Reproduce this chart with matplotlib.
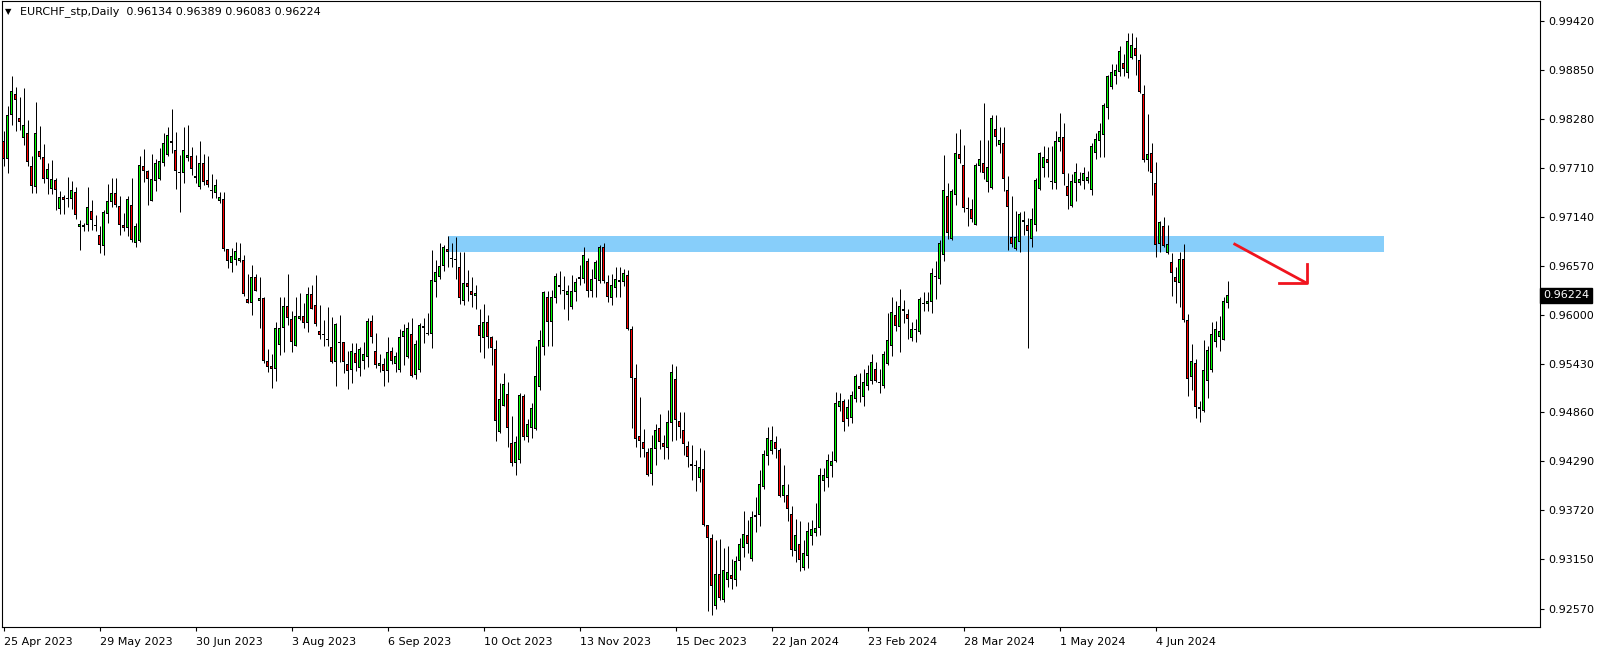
import matplotlib.pyplot as plt
import numpy as np
import pandas as pd
from matplotlib.patches import Rectangle
from matplotlib.transforms import blended_transform_factory

title = "EURCHF_stp,Daily  0.96134 0.96389 0.96083 0.96224"
last_price = 0.96224

opens = [
    0.9803, 0.9782, 0.9833, 0.9857, 0.9829, 0.9806, 0.9812, 0.9773, 0.9749, 0.9791,
    0.9784, 0.9758, 0.9746, 0.9757, 0.9723, 0.9737, 0.9735, 0.9735, 0.9743, 0.9702,
    0.9702, 0.9705, 0.9721, 0.9705, 0.9693, 0.9680, 0.9717, 0.9731, 0.9742, 0.9727,
    0.9705, 0.9701, 0.9728, 0.9684, 0.9686, 0.9773, 0.9767, 0.9733, 0.9756, 0.9758,
    0.9777, 0.9786, 0.9803, 0.9792, 0.9766, 0.9765, 0.9783, 0.9785, 0.9762, 0.9749,
    0.9777, 0.9757, 0.9745, 0.9742, 0.9732, 0.9735, 0.9676, 0.9660, 0.9664, 0.9663,
    0.9664, 0.9618, 0.9614, 0.9644, 0.9616, 0.9619, 0.9546, 0.9540, 0.9537, 0.9565,
    0.9585, 0.9610, 0.9595, 0.9564, 0.9595, 0.9599, 0.9590, 0.9624, 0.9611, 0.9581,
    0.9577, 0.9572, 0.9562, 0.9545, 0.9568, 0.9568, 0.9542, 0.9535, 0.9555, 0.9538,
    0.9546, 0.9551, 0.9593, 0.9558, 0.9540, 0.9542, 0.9534, 0.9558, 0.9542, 0.9535,
    0.9574, 0.9551, 0.9578, 0.9530, 0.9535, 0.9587, 0.9579, 0.9577, 0.9638, 0.9644,
    0.9657, 0.9677, 0.9666, 0.9665, 0.9655, 0.9616, 0.9637, 0.9628, 0.9622, 0.9588,
    0.9573, 0.9591, 0.9574, 0.9560, 0.9463, 0.9493, 0.9507, 0.9450, 0.9427, 0.9430,
    0.9505, 0.9457, 0.9468, 0.9467, 0.9516, 0.9562, 0.9620, 0.9592, 0.9619, 0.9632,
    0.9628, 0.9623, 0.9609, 0.9626, 0.9641, 0.9642, 0.9662, 0.9627, 0.9641, 0.9639,
    0.9679, 0.9638, 0.9619, 0.9631, 0.9638, 0.9638, 0.9646, 0.9583, 0.9526, 0.9459,
    0.9451, 0.9440, 0.9414, 0.9443, 0.9468, 0.9450, 0.9445, 0.9474, 0.9525, 0.9476,
    0.9466, 0.9447, 0.9426, 0.9423, 0.9409, 0.9420, 0.9355, 0.9340, 0.9260, 0.9297,
    0.9267, 0.9290, 0.9296, 0.9290, 0.9313, 0.9328, 0.9343, 0.9315, 0.9364, 0.9366,
    0.9399, 0.9435, 0.9441, 0.9452, 0.9442, 0.9388, 0.9390, 0.9367, 0.9324, 0.9333,
    0.9305, 0.9318, 0.9342, 0.9345, 0.9351, 0.9406, 0.9410, 0.9424, 0.9429, 0.9492,
    0.9499, 0.9478, 0.9480, 0.9502, 0.9517, 0.9504, 0.9517, 0.9523, 0.9537, 0.9521,
    0.9517, 0.9543, 0.9563, 0.9600, 0.9586, 0.9604, 0.9601, 0.9573, 0.9583, 0.9580,
    0.9612, 0.9612, 0.9615, 0.9645, 0.9642, 0.9670, 0.9738, 0.9688, 0.9740, 0.9787,
    0.9774, 0.9724, 0.9723, 0.9705, 0.9773, 0.9777, 0.9755, 0.9748, 0.9817, 0.9798,
    0.9800, 0.9745, 0.9690, 0.9677, 0.9685, 0.9710, 0.9705, 0.9688, 0.9705, 0.9747,
    0.9771, 0.9782, 0.9756, 0.9754, 0.9801, 0.9807, 0.9750, 0.9727, 0.9754, 0.9754,
    0.9756, 0.9756, 0.9745, 0.9788, 0.9803, 0.9810, 0.9841, 0.9865, 0.9878, 0.9883,
    0.9894, 0.9882, 0.9899, 0.9911, 0.9897, 0.9857, 0.9780, 0.9789, 0.9754, 0.9682,
    0.9703, 0.9672, 0.9661, 0.9644, 0.9637, 0.9665, 0.9594, 0.9527, 0.9544, 0.9492,
    0.9488, 0.9523, 0.9536, 0.9568, 0.9574, 0.9571, 0.96134,
]
highs = [
    0.9814, 0.9843, 0.9878, 0.9865, 0.9854, 0.9864, 0.9827, 0.9785, 0.9848, 0.9820,
    0.9799, 0.9777, 0.9780, 0.9759, 0.9744, 0.9740, 0.9760, 0.9756, 0.9749, 0.9710,
    0.9707, 0.9749, 0.9734, 0.9716, 0.9703, 0.9722, 0.9752, 0.9759, 0.9759, 0.9738,
    0.9718, 0.9738, 0.9759, 0.9707, 0.9785, 0.9793, 0.9769, 0.9787, 0.9782, 0.9794,
    0.9812, 0.9819, 0.9840, 0.9813, 0.9786, 0.9819, 0.9821, 0.9796, 0.9786, 0.9802,
    0.9787, 0.9785, 0.9764, 0.9758, 0.9743, 0.9743, 0.9677, 0.9678, 0.9685, 0.9683,
    0.9670, 0.9647, 0.9658, 0.9647, 0.9644, 0.9620, 0.9560, 0.9554, 0.9592, 0.9621,
    0.9621, 0.9647, 0.9604, 0.9621, 0.9625, 0.9614, 0.9632, 0.9635, 0.9646, 0.9611,
    0.9594, 0.9609, 0.9597, 0.9590, 0.9600, 0.9568, 0.9558, 0.9567, 0.9567, 0.9562,
    0.9568, 0.9596, 0.9600, 0.9579, 0.9554, 0.9549, 0.9574, 0.9562, 0.9557, 0.9583,
    0.9589, 0.9591, 0.9596, 0.9570, 0.9590, 0.9596, 0.9602, 0.9675, 0.9664, 0.9683,
    0.9681, 0.9692, 0.9683, 0.9690, 0.9673, 0.9673, 0.9652, 0.9644, 0.9635, 0.9607,
    0.9612, 0.9600, 0.9575, 0.9571, 0.9520, 0.9532, 0.9521, 0.9482, 0.9458, 0.9509,
    0.9508, 0.9478, 0.9497, 0.9563, 0.9582, 0.9628, 0.9627, 0.9629, 0.9648, 0.9651,
    0.9645, 0.9635, 0.9646, 0.9643, 0.9658, 0.9679, 0.9666, 0.9653, 0.9664, 0.9681,
    0.9683, 0.9646, 0.9647, 0.9655, 0.9656, 0.9653, 0.9652, 0.9587, 0.9542, 0.9504,
    0.9467, 0.9445, 0.9460, 0.9473, 0.9484, 0.9460, 0.9489, 0.9542, 0.9540, 0.9486,
    0.9486, 0.9453, 0.9448, 0.9430, 0.9445, 0.9442, 0.9355, 0.9344, 0.9337, 0.9338,
    0.9328, 0.9330, 0.9315, 0.9318, 0.9340, 0.9371, 0.9361, 0.9371, 0.9387, 0.9419,
    0.9442, 0.9469, 0.9470, 0.9458, 0.9445, 0.9425, 0.9403, 0.9377, 0.9362, 0.9359,
    0.9337, 0.9358, 0.9360, 0.9380, 0.9421, 0.9421, 0.9437, 0.9441, 0.9510, 0.9509,
    0.9502, 0.9502, 0.9511, 0.9531, 0.9532, 0.9537, 0.9541, 0.9554, 0.9545, 0.9537,
    0.9558, 0.9602, 0.9620, 0.9616, 0.9630, 0.9617, 0.9607, 0.9591, 0.9595, 0.9620,
    0.9626, 0.9626, 0.9654, 0.9663, 0.9687, 0.9786, 0.9754, 0.9746, 0.9812, 0.9817,
    0.9798, 0.9737, 0.9735, 0.9777, 0.9804, 0.9847, 0.9804, 0.9833, 0.9833, 0.9819,
    0.9819, 0.9762, 0.9738, 0.9721, 0.9720, 0.9721, 0.9713, 0.9724, 0.9759, 0.9790,
    0.9797, 0.9795, 0.9797, 0.9814, 0.9835, 0.9824, 0.9765, 0.9764, 0.9777, 0.9766,
    0.9772, 0.9767, 0.9800, 0.9812, 0.9823, 0.9847, 0.9880, 0.9892, 0.9892, 0.9913,
    0.9904, 0.9928, 0.9928, 0.9924, 0.9904, 0.9868, 0.9834, 0.9800, 0.9778, 0.9709,
    0.9714, 0.9705, 0.9672, 0.9655, 0.9673, 0.9682, 0.9601, 0.9566, 0.9548, 0.9499,
    0.9570, 0.9563, 0.9592, 0.9593, 0.9598, 0.9620, 0.96389,
]
lows = [
    0.9773, 0.9765, 0.9821, 0.9814, 0.9815, 0.9798, 0.9773, 0.9742, 0.9742, 0.9782,
    0.9754, 0.9741, 0.9741, 0.9722, 0.9717, 0.9717, 0.9726, 0.9723, 0.9712, 0.9675,
    0.9697, 0.9697, 0.9699, 0.9697, 0.9672, 0.9669, 0.9707, 0.9726, 0.9726, 0.9693,
    0.9697, 0.9692, 0.9685, 0.9679, 0.9685, 0.9755, 0.9728, 0.9732, 0.9744, 0.9757,
    0.9773, 0.9785, 0.9788, 0.9747, 0.9720, 0.9754, 0.9779, 0.9763, 0.9753, 0.9747,
    0.9751, 0.9749, 0.9736, 0.9736, 0.9730, 0.9674, 0.9654, 0.9650, 0.9658, 0.9661,
    0.9622, 0.9613, 0.9600, 0.9627, 0.9585, 0.9544, 0.9533, 0.9514, 0.9523, 0.9553,
    0.9556, 0.9588, 0.9557, 0.9563, 0.9594, 0.9584, 0.9580, 0.9607, 0.9587, 0.9572,
    0.9564, 0.9564, 0.9544, 0.9517, 0.9545, 0.9532, 0.9513, 0.9520, 0.9534, 0.9529,
    0.9537, 0.9539, 0.9567, 0.9538, 0.9533, 0.9517, 0.9521, 0.9543, 0.9533, 0.9533,
    0.9541, 0.9550, 0.9527, 0.9525, 0.9533, 0.9567, 0.9576, 0.9561, 0.9621, 0.9642,
    0.9651, 0.9655, 0.9656, 0.9642, 0.9612, 0.9611, 0.9616, 0.9609, 0.9607, 0.9556,
    0.9550, 0.9561, 0.9541, 0.9453, 0.9462, 0.9493, 0.9446, 0.9424, 0.9413, 0.9427,
    0.9454, 0.9452, 0.9456, 0.9466, 0.9512, 0.9553, 0.9563, 0.9563, 0.9613, 0.9624,
    0.9607, 0.9594, 0.9606, 0.9616, 0.9634, 0.9637, 0.9621, 0.9620, 0.9620, 0.9637,
    0.9637, 0.9615, 0.9611, 0.9620, 0.9620, 0.9633, 0.9582, 0.9468, 0.9446, 0.9434,
    0.9434, 0.9412, 0.9401, 0.9425, 0.9443, 0.9432, 0.9432, 0.9453, 0.9454, 0.9456,
    0.9436, 0.9422, 0.9407, 0.9394, 0.9405, 0.9354, 0.9254, 0.9250, 0.9257, 0.9267,
    0.9265, 0.9282, 0.9280, 0.9284, 0.9302, 0.9317, 0.9322, 0.9313, 0.9347, 0.9353,
    0.9397, 0.9425, 0.9438, 0.9433, 0.9387, 0.9382, 0.9359, 0.9318, 0.9311, 0.9301,
    0.9302, 0.9305, 0.9331, 0.9342, 0.9343, 0.9394, 0.9399, 0.9411, 0.9428, 0.9488,
    0.9464, 0.9470, 0.9474, 0.9498, 0.9498, 0.9494, 0.9512, 0.9519, 0.9522, 0.9509,
    0.9515, 0.9541, 0.9552, 0.9581, 0.9556, 0.9590, 0.9572, 0.9569, 0.9568, 0.9578,
    0.9604, 0.9604, 0.9602, 0.9618, 0.9636, 0.9663, 0.9688, 0.9687, 0.9728, 0.9777,
    0.9720, 0.9703, 0.9708, 0.9704, 0.9766, 0.9758, 0.9743, 0.9747, 0.9797, 0.9789,
    0.9744, 0.9675, 0.9679, 0.9675, 0.9673, 0.9693, 0.9561, 0.9679, 0.9698, 0.9745,
    0.9760, 0.9760, 0.9747, 0.9746, 0.9791, 0.9751, 0.9723, 0.9726, 0.9733, 0.9751,
    0.9746, 0.9754, 0.9740, 0.9782, 0.9784, 0.9784, 0.9828, 0.9863, 0.9869, 0.9878,
    0.9878, 0.9876, 0.9898, 0.9880, 0.9859, 0.9778, 0.9768, 0.9739, 0.9667, 0.9673,
    0.9679, 0.9671, 0.9622, 0.9613, 0.9609, 0.9592, 0.9505, 0.9512, 0.9479, 0.9475,
    0.9486, 0.9503, 0.9533, 0.9562, 0.9558, 0.9570, 0.96083,
]
closes = [
    0.9782, 0.9833, 0.9861, 0.9850, 0.9825, 0.9821, 0.9778, 0.9750, 0.9812, 0.9784,
    0.9758, 0.9770, 0.9758, 0.9745, 0.9737, 0.9734, 0.9736, 0.9745, 0.9716, 0.9706,
    0.9705, 0.9726, 0.9710, 0.9703, 0.9681, 0.9720, 0.9732, 0.9742, 0.9728, 0.9705,
    0.9701, 0.9735, 0.9687, 0.9703, 0.9775, 0.9767, 0.9758, 0.9758, 0.9777, 0.9779,
    0.9800, 0.9809, 0.9800, 0.9767, 0.9765, 0.9792, 0.9786, 0.9770, 0.9759, 0.9777,
    0.9755, 0.9751, 0.9744, 0.9751, 0.9737, 0.9677, 0.9662, 0.9668, 0.9674, 0.9666,
    0.9624, 0.9614, 0.9644, 0.9628, 0.9619, 0.9546, 0.9539, 0.9537, 0.9584, 0.9584,
    0.9610, 0.9596, 0.9568, 0.9599, 0.9599, 0.9590, 0.9624, 0.9607, 0.9589, 0.9576,
    0.9576, 0.9570, 0.9545, 0.9589, 0.9567, 0.9545, 0.9534, 0.9558, 0.9544, 0.9560,
    0.9554, 0.9593, 0.9574, 0.9541, 0.9544, 0.9534, 0.9556, 0.9546, 0.9552, 0.9574,
    0.9581, 0.9585, 0.9529, 0.9566, 0.9588, 0.9584, 0.9577, 0.9640, 0.9650, 0.9657,
    0.9679, 0.9673, 0.9665, 0.9664, 0.9619, 0.9637, 0.9632, 0.9623, 0.9625, 0.9575,
    0.9591, 0.9574, 0.9561, 0.9476, 0.9502, 0.9519, 0.9468, 0.9427, 0.9451, 0.9506,
    0.9457, 0.9472, 0.9491, 0.9529, 0.9571, 0.9626, 0.9592, 0.9620, 0.9645, 0.9635,
    0.9628, 0.9628, 0.9628, 0.9638, 0.9644, 0.9669, 0.9627, 0.9641, 0.9661, 0.9679,
    0.9639, 0.9620, 0.9635, 0.9642, 0.9640, 0.9649, 0.9583, 0.9526, 0.9455, 0.9453,
    0.9443, 0.9413, 0.9444, 0.9466, 0.9452, 0.9446, 0.9475, 0.9533, 0.9477, 0.9469,
    0.9449, 0.9434, 0.9424, 0.9423, 0.9422, 0.9355, 0.9340, 0.9284, 0.9297, 0.9270,
    0.9302, 0.9300, 0.9292, 0.9313, 0.9332, 0.9344, 0.9333, 0.9364, 0.9366, 0.9403,
    0.9437, 0.9456, 0.9454, 0.9443, 0.9388, 0.9401, 0.9373, 0.9326, 0.9343, 0.9314,
    0.9322, 0.9348, 0.9350, 0.9351, 0.9413, 0.9413, 0.9430, 0.9429, 0.9497, 0.9499,
    0.9475, 0.9492, 0.9506, 0.9528, 0.9513, 0.9522, 0.9532, 0.9545, 0.9523, 0.9520,
    0.9554, 0.9570, 0.9603, 0.9587, 0.9610, 0.9606, 0.9595, 0.9583, 0.9582, 0.9618,
    0.9614, 0.9616, 0.9649, 0.9644, 0.9683, 0.9745, 0.9695, 0.9744, 0.9788, 0.9782,
    0.9724, 0.9723, 0.9711, 0.9774, 0.9781, 0.9765, 0.9772, 0.9829, 0.9807, 0.9804,
    0.9758, 0.9726, 0.9682, 0.9691, 0.9717, 0.9708, 0.9697, 0.9712, 0.9757, 0.9788,
    0.9784, 0.9777, 0.9755, 0.9803, 0.9807, 0.9764, 0.9738, 0.9756, 0.9766, 0.9758,
    0.9765, 0.9760, 0.9797, 0.9805, 0.9814, 0.9845, 0.9878, 0.9883, 0.9885, 0.9908,
    0.9886, 0.9919, 0.9915, 0.9902, 0.9860, 0.9780, 0.9787, 0.9765, 0.9681, 0.9708,
    0.9680, 0.9682, 0.9648, 0.9638, 0.9665, 0.9594, 0.9525, 0.9546, 0.9492, 0.9490,
    0.9535, 0.9559, 0.9577, 0.9583, 0.9581, 0.9616, 0.96224,
]

price_ticks = [0.99420, 0.98850, 0.98280, 0.97710, 0.97140, 0.96570, 0.96000,
               0.95430, 0.94860, 0.94290, 0.93720, 0.93150, 0.92570]

# resistance zone and the arrow drawn on the chart
zone_low, zone_high = 0.96726, 0.96921
zone_left, zone_right = 111.2, 345.0
arrow_from = (307.5, 0.96830)
arrow_to = (325.75, 0.96369)

# trading days (no bars on 25 Dec / 1 Jan)
days = pd.bdate_range("2023-04-25", periods=330)
days = days[~days.strftime("%m-%d").isin(["12-25", "01-01"])][:len(closes)]

n = len(closes)
x = np.arange(n)
o = np.array(opens)
c = np.array(closes)

fig = plt.figure(figsize=(16.04, 6.53), dpi=100)
ax = fig.add_axes([2 / 1604, 26 / 653, 1538 / 1604, 626 / 653])
ymin, ymax = 0.92356, 0.99659
ax.set_xlim(-0.375, 384.125)
ax.set_ylim(ymin, ymax)
px = (ymax - ymin) / 626  # one screen pixel in price units

ax.add_patch(Rectangle((zone_left, zone_low), zone_right - zone_left,
                       zone_high - zone_low, facecolor="#87cefa", lw=0, zorder=1))

# wicks, black body frame, coloured body core
ax.vlines(x, lows, highs, colors="black", linewidth=0.72, zorder=2)
lo = np.minimum(o, c)
h = np.abs(c - o)
ax.bar(x, np.maximum(h, px), bottom=lo, width=0.75, color="black", lw=0, zorder=3)
body_col = np.where(c >= o, "#00ff00", "#ff0000")
core = h > 2 * px
ax.bar(x[core], h[core] - 2 * px, bottom=lo[core] + px, width=0.25,
       color=body_col[core], lw=0, zorder=4)

# red arrow
red = "#f0141e"
ax.plot([arrow_from[0], arrow_to[0]], [arrow_from[1], arrow_to[1]],
        color=red, lw=2.0, solid_capstyle="butt", zorder=5)
ax.plot([arrow_to[0] - 7, arrow_to[0], arrow_to[0]],
        [arrow_to[1], arrow_to[1], arrow_to[1] + 0.0022],
        color=red, lw=2.0, zorder=5)

ax.yaxis.tick_right()
ax.set_yticks(price_ticks)
ax.set_yticklabels([f"{p:.5f}" for p in price_ticks])
ax.tick_params(axis="y", direction="out", length=3, width=0.8, pad=3, labelsize=8)

tick_idx = list(range(0, n, 24))
ax.set_xticks(tick_idx)
ax.set_xticklabels([f"{days[i].day} {days[i].strftime('%b %Y')}" for i in tick_idx])
ax.tick_params(axis="x", direction="out", length=3, width=0.8, pad=4, labelsize=8)
for lab in ax.get_xticklabels():
    lab.set_horizontalalignment("left")

for sp in ax.spines.values():
    sp.set_linewidth(0.8)

# current price box
tr = blended_transform_factory(ax.transAxes, ax.transData)
ax.text(1.002, last_price, f"{last_price:.5f}", transform=tr, color="white",
        fontsize=8, va="center", ha="left",
        bbox=dict(boxstyle="square,pad=0.25", fc="black", ec="black"))

fig.text(5 / 1604, 1 - 12 / 653, "\u25bc", fontsize=6, va="center", ha="left")
fig.text(20 / 1604, 1 - 12 / 653, title, fontsize=8, va="center", ha="left")

fig.savefig("out.png", dpi=100)
